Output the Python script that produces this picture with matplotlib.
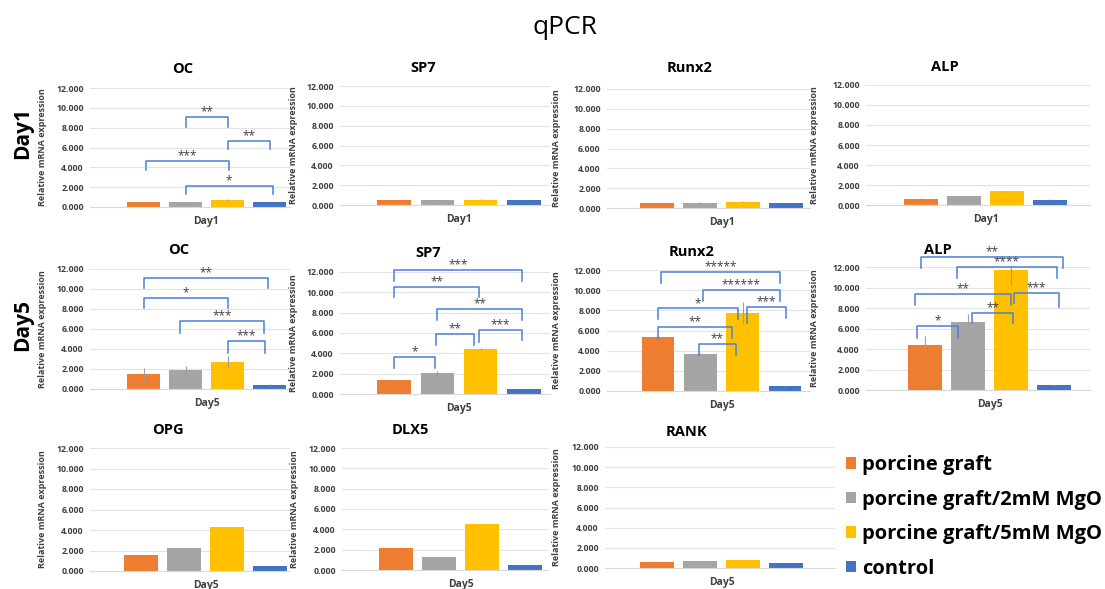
import numpy as np
import matplotlib.pyplot as plt

plt.rcParams['font.family'] = ['Open Sans', 'DejaVu Sans']

W, H = 1105, 589

groups = ['porcine graft', 'porcine graft/2mM MgO', 'porcine graft/5mM MgO', 'control']
colors = ['#ED7D31', '#A5A5A5', '#FFC000', '#4472C4']

# --- values (relative mRNA expression) ---
# Day1
oc_d1 = [0.50, 0.48, 0.70, 0.50]
oc_d1_err = [0.03, 0.05, 0.10, 0.02]
sp7_d1 = [0.50, 0.48, 0.55, 0.50]
sp7_d1_err = [0.02, 0.03, 0.04, 0.02]
runx2_d1 = [0.50, 0.52, 0.65, 0.50]
runx2_d1_err = [0.02, 0.08, 0.08, 0.02]
alp_d1 = [0.65, 0.90, 1.38, 0.55]
alp_d1_err = [0.02, 0.03, 0.03, 0.02]

# Day5
oc_d5 = [1.50, 1.90, 2.70, 0.45]
oc_d5_err = [0.60, 0.45, 0.60, 0.02]
sp7_d5 = [1.35, 2.05, 4.40, 0.50]
sp7_d5_err = [0.03, 0.20, 0.12, 0.02]
runx2_d5 = [5.40, 3.67, 7.70, 0.45]
runx2_d5_err = [0.05, 0.05, 1.10, 0.02]
alp_d5 = [4.40, 6.65, 11.70, 0.45]
alp_d5_err = [0.85, 0.75, 1.50, 0.02]

# Day5, no error bars / significance shown
opg_d5 = [1.56, 2.28, 4.27, 0.49]
dlx5_d5 = [2.20, 1.25, 4.57, 0.50]
rank_d5 = [0.60, 0.73, 0.76, 0.53]

# significance brackets: (bar_from, bar_to, line level, left leg end, right leg end, stars)
oc_d1_sig = [(1, 2, 9.1, 8.1, 8.1, '**'),
             (2, 3, 6.65, 5.85, 5.85, '**'),
             (0.06, 2.04, 4.65, 3.75, 3.75, '***'),
             (1.0, 3.08, 2.1, 1.3, 1.3, '*')]
oc_d5_sig = [(0, 2.97, 11.1, 10.1, 10.1, '**'),
             (0, 2.0, 9.1, 8.1, 8.1, '*'),
             (0.88, 2.86, 6.85, 5.65, 5.65, '***'),
             (2.0, 2.9, 4.85, 3.65, 3.65, '***')]
sp7_d5_sig = [(0, 2.95, 12.2, 11.1, 11.1, '***'),
              (0, 1.97, 10.5, 9.55, 9.55, '**'),
              (1, 2.95, 8.35, 7.3, 7.3, '**'),
              (0.97, 1.85, 5.9, 4.8, 4.8, '**'),
              (1.97, 2.95, 6.3, 5.1, 5.3, '***'),
              (0, 0.95, 3.65, 2.55, 2.55, '*')]
runx2_d5_sig = [(0.07, 2.88, 11.8, 10.7, 10.7, '*****'),
                (1.06, 2.88, 10.0, 8.9, 8.9, '******'),
                (0, 1.9, 8.2, 7.1, 7.1, '*'),
                (2.1, 3.02, 8.35, 6.7, 7.2, '***'),
                (0, 1.75, 6.35, 5.25, 5.25, '**'),
                (0.97, 1.84, 4.65, 3.55, 3.55, '**')]
alp_d5_sig = [(-0.09, 3.2, 12.95, 11.9, 11.9, '**'),
              (0.74, 3.07, 12.0, 10.9, 10.9, '****'),
              (-0.23, 2.0, 9.35, 8.3, 8.3, '**'),
              (2.07, 3.12, 9.45, 8.5, 8.1, '***'),
              (1.09, 2.05, 7.5, 6.5, 6.5, '**'),
              (-0.19, 0.77, 6.25, 5.1, 5.1, '*')]

# --- layout in pixels: left, right, y(12), y(0), first bar centre, bar step, title x/y, ylabel x ---
panels = [
    ('OC', 'Day1', oc_d1, oc_d1_err, oc_d1_sig, (90, 290, 88, 207, 143.5, 42.0, 183, 69, 47)),
    ('SP7', 'Day1', sp7_d1, sp7_d1_err, [], (340, 550, 86, 205, 394, 43.3, 423, 68, 298)),
    ('Runx2', 'Day1', runx2_d1, runx2_d1_err, [], (607, 810, 89, 208, 657, 43.0, 690, 68, 561)),
    ('ALP', 'Day1', alp_d1, alp_d1_err, [], (866, 1090, 85, 205, 921, 43.0, 945, 67, 819)),
    ('OC', 'Day5', oc_d5, oc_d5_err, oc_d5_sig, (90, 290, 269, 389, 143.5, 42.0, 179, 250, 47)),
    ('SP7', 'Day5', sp7_d5, sp7_d5_err, sp7_d5_sig, (340, 550, 272, 394, 394, 43.3, 428, 253, 298)),
    ('Runx2', 'Day5', runx2_d5, runx2_d5_err, runx2_d5_sig, (607, 810, 270, 391, 658, 42.3, 692, 252, 561)),
    ('ALP', 'Day5', alp_d5, alp_d5_err, alp_d5_sig, (866, 1090, 267, 390, 925, 43.0, 938, 250, 819)),
    ('OPG', 'Day5', opg_d5, None, [], (90, 290, 448, 571, 141, 43.0, 168, 430, 47)),
    ('DLX5', 'Day5', dlx5_d5, None, [], (342, 548, 448, 570, 396, 43.0, 410, 430, 299)),
    ('RANK', 'Day5', rank_d5, None, [], (605, 835, 447, 568, 657, 43.0, 686, 432, 561)),
]

fig = plt.figure(figsize=(W / 100, H / 100), dpi=100)
fig.text(565 / W, 1 - 28 / H, 'qPCR', ha='center', va='center', fontsize=19)
fig.text(23 / W, 1 - 133 / H, 'Day1', ha='center', va='center', rotation=90,
         fontsize=15, fontweight='bold')
fig.text(23 / W, 1 - 325 / H, 'Day5', ha='center', va='center', rotation=90,
         fontsize=15, fontweight='bold')

handles = None
for name, day, vals, errs, sig, lay in panels:
    left, right, ytop, ybot, c0, step, tx, ty, ylx = lay
    ax = fig.add_axes([left / W, 1 - ybot / H, (right - left) / W, (ybot - ytop) / H])
    x = np.arange(len(vals))
    bars = ax.bar(x, vals, width=0.77, color=colors, zorder=2)
    if handles is None:
        handles = list(bars.patches)
    if errs is not None:
        ax.errorbar(x, vals, yerr=errs, fmt='none', ecolor='#9E9E9E',
                    elinewidth=0.8, capsize=0, zorder=3)
    for i, j, yl, l1, l2, stars in sig:
        ax.plot([i, i, j, j], [l1, yl, yl, l2], color='#4A7FD4', lw=1.1,
                clip_on=False, zorder=4)
        ax.text((i + j) / 2, yl + 0.15, stars, ha='center', va='baseline',
                fontsize=8.5, color='#404040', clip_on=False)

    ax.set_xlim((left - c0) / step, (right - c0) / step)
    ax.set_ylim(0, 12)
    ax.set_yticks(np.arange(0, 13, 2))
    ax.set_yticklabels([f'{v:.3f}' for v in np.arange(0, 13, 2)])
    ax.set_xticks([1.5])
    ax.set_xticklabels([day])
    ax.tick_params(axis='y', length=0, pad=4.5, labelsize=6.3, labelcolor='#404040')
    ax.tick_params(axis='x', length=0, pad=6.5, labelsize=7.5, labelcolor='#404040')
    for lab in ax.get_yticklabels() + ax.get_xticklabels():
        lab.set_fontweight('bold')
    ax.yaxis.grid(True, color='#E3E3E3', lw=0.8)
    ax.set_axisbelow(True)
    for s in ['top', 'right', 'left']:
        ax.spines[s].set_visible(False)
    ax.spines['bottom'].set_color('#D9D9D9')
    ax.set_ylabel('Relative mRNA expression', fontsize=6.5, fontweight='bold', color='#404040')
    ax.yaxis.set_label_coords((ylx - left) / (right - left), 0.5)
    fig.text(tx / W, 1 - ty / H, name, ha='center', va='center', fontsize=10.5, fontweight='bold')

fig.legend(handles, groups, loc='upper left', bbox_to_anchor=(846 / W, 1 - 455 / H),
           frameon=False, prop={'weight': 'bold', 'size': 14.5}, handlelength=0.5,
           handleheight=0.5, handletextpad=0.3, labelspacing=0.72,
           borderaxespad=0, borderpad=0)

fig.savefig('out.png', dpi=100)
